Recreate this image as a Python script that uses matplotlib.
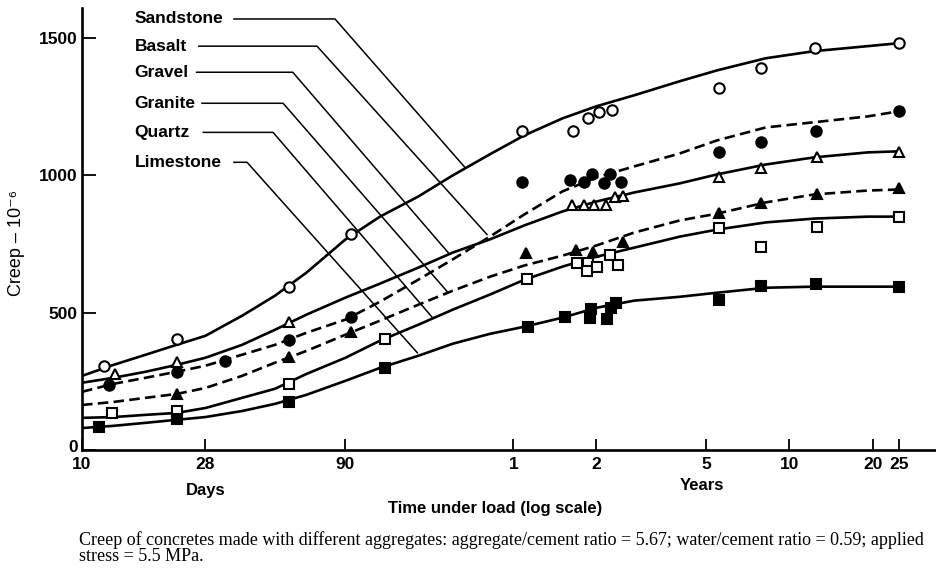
import matplotlib.pyplot as plt
from matplotlib.transforms import ScaledTranslation

plt.rcParams['font.family'] = ['Liberation Sans', 'DejaVu Sans']

# Time under load in days, creep in 10^-6
curve_days = [10, 13, 17, 22, 28, 38, 50, 65, 90, 120, 165, 220, 300, 400,
              550, 730, 1000, 1460, 2000, 3000, 4500, 7000, 9131]

sandstone_curve = [270, 310, 347, 383, 416, 489, 562, 646, 767, 850, 923, 1000,
                   1077, 1146, 1208, 1252, 1292, 1343, 1383, 1427, 1453, 1471, 1482]
basalt_curve = [212, 241, 263, 285, 307, 347, 383, 427, 475, 540, 620, 694,
                777, 858, 942, 993, 1033, 1080, 1128, 1175, 1194, 1215, 1234]
gravel_curve = [245, 263, 285, 310, 336, 383, 438, 493, 555, 606, 664, 719,
                767, 818, 869, 905, 938, 971, 1004, 1040, 1066, 1084, 1088]
granite_curve = [164, 175, 190, 204, 226, 270, 318, 361, 420, 471, 529, 580,
                 631, 672, 708, 745, 792, 836, 861, 902, 931, 945, 949]
quartz_curve = [117, 120, 128, 135, 153, 190, 223, 277, 336, 398, 456, 511,
                566, 620, 668, 704, 737, 777, 803, 829, 843, 850, 850]
limestone_curve = [80, 88, 99, 110, 120, 142, 168, 201, 252, 299, 343, 387,
                   423, 449, 482, 518, 544, 558, 573, 591, 595, 595, 595]

# measured points
sandstone_days = [12, 22, 56, 94, 393, 600, 681, 747, 832, 2030, 2884, 4500, 9131]
sandstone_vals = [307, 405, 595, 785, 1161, 1161, 1208, 1230, 1237, 1318, 1391, 1464, 1482]
basalt_days = [12.5, 22, 33, 56, 94, 393, 586, 659, 705, 778, 819, 897, 2030, 2884, 4565, 9131]
basalt_vals = [237, 285, 325, 402, 485, 978, 982, 978, 1004, 971, 1004, 978, 1084, 1121, 1161, 1234]
gravel_days = [13.2, 22, 56, 595, 659, 717, 790, 855, 912, 2030, 2884, 4600, 9131]
gravel_vals = [277, 321, 467, 891, 891, 891, 894, 920, 927, 996, 1029, 1069, 1084]
granite_days = [22, 56, 94, 405, 615, 710, 912, 2030, 2884, 4600, 9131]
granite_vals = [204, 340, 431, 719, 730, 723, 756, 865, 898, 934, 953]
quartz_days = [12.8, 22, 56, 125, 410, 621, 681, 675, 734, 819, 875, 2030, 2884, 4600, 9131]
quartz_vals = [135, 142, 241, 405, 624, 682, 682, 653, 668, 712, 675, 807, 741, 814, 850]
limestone_days = [11.5, 22, 56, 125, 413, 562, 698, 692, 798, 825, 861, 2030, 2884, 4565, 9131]
limestone_vals = [84, 113, 175, 299, 449, 485, 515, 482, 478, 518, 537, 548, 599, 606, 595]

tick_days = [10, 28, 90, 365, 730, 1826, 3652, 7305, 9131]
tick_labels = ['10', '28', '90', '1', '2', '5', '10', '20', '25']

names = ['Sandstone', 'Basalt', 'Gravel', 'Granite', 'Quartz', 'Limestone']

series = [
    (sandstone_curve, sandstone_days, sandstone_vals, '-', 'o', False),
    (basalt_curve, basalt_days, basalt_vals, (0, (4, 2)), 'o', True),
    (gravel_curve, gravel_days, gravel_vals, '-', '^', False),
    (granite_curve, granite_days, granite_vals, (0, (4, 2)), '^', True),
    (quartz_curve, quartz_days, quartz_vals, '-', 's', False),
    (limestone_curve, limestone_days, limestone_vals, '-', 's', True),
]

# leader lines: (text end, knee, point on curve)
label_y = [1570, 1471, 1376, 1263, 1157, 1048]
leader_start = [35.5, 26.5, 26, 27.2, 27.5, 35.5]
leader_knee = [82.5, 71, 58, 53.5, 49.2, 39.6]
leader_end = [(244, 1029), (293, 785), (212, 719), (212, 573), (185, 485), (164, 354)]

fig = plt.figure(figsize=(9.37, 5.72), dpi=100)
ax = fig.add_axes([82 / 937, 122 / 572, 855 / 937, 442 / 572])

for curve, px, py, ls, mk, filled in series:
    ax.plot(curve_days, curve, color='black', lw=1.9, ls=ls, zorder=2)
    ax.plot(px, py, ls='none', marker=mk, ms=7.5 if mk != 's' else 6.5,
            mfc='black' if filled else 'white', mec='black', mew=1.5, zorder=3)

for name, y, x0, xk, (xe, ye) in zip(names, label_y, leader_start, leader_knee, leader_end):
    ax.text(15.5, y, name, ha='left', va='center', fontsize=12.5, fontweight='bold')
    ax.plot([x0, xk, xe], [y, y, ye], color='black', lw=1.1, zorder=1)

ax.set_xscale('log')
ax.set_xlim(10, 12500)
ax.set_ylim(0, 1610)
ax.set_xticks(tick_days)
ax.set_xticklabels(tick_labels)
ax.xaxis.set_minor_locator(plt.NullLocator())
ax.set_yticks([0, 500, 1000, 1500])

for side in ['top', 'right']:
    ax.spines[side].set_visible(False)
for side in ['left', 'bottom']:
    ax.spines[side].set_linewidth(1.9)

ax.tick_params(axis='x', direction='in', length=8, width=1.3, pad=5,
               labelsize=12.5, labelcolor='black')
ax.tick_params(axis='y', direction='in', length=10, width=1.3, pad=3,
               labelsize=12.5)
for lab in ax.get_xticklabels() + ax.get_yticklabels():
    lab.set_fontweight('bold')

# lift the zero label a little off the corner
zero = ax.get_yticklabels()[0]
zero.set_transform(zero.get_transform() + ScaledTranslation(0, 3 / 72, fig.dpi_scale_trans))

fig.text(206 / 937, 1 - 490 / 572, 'Days', ha='center', va='center',
         fontsize=12, fontweight='bold')
fig.text(702 / 937, 1 - 485 / 572, 'Years', ha='center', va='center',
         fontsize=12, fontweight='bold')
fig.text(495 / 937, 1 - 509 / 572, 'Time under load (log scale)', ha='center',
         va='center', fontsize=12, fontweight='bold')
fig.text(17 / 937, 1 - 243 / 572, 'Creep – 10⁻⁶', rotation=90, ha='center',
         va='center', fontsize=13)

caption = ('Creep of concretes made with different aggregates: aggregate/cement ratio = 5.67; '
           'water/cement ratio = 0.59; applied\nstress = 5.5 MPa.')
fig.text(79 / 937, 1 - 531 / 572, caption, ha='left', va='top', fontsize=13,
         family=['Liberation Serif', 'DejaVu Serif'], linespacing=0.95)

fig.savefig('out.png', dpi=100)
